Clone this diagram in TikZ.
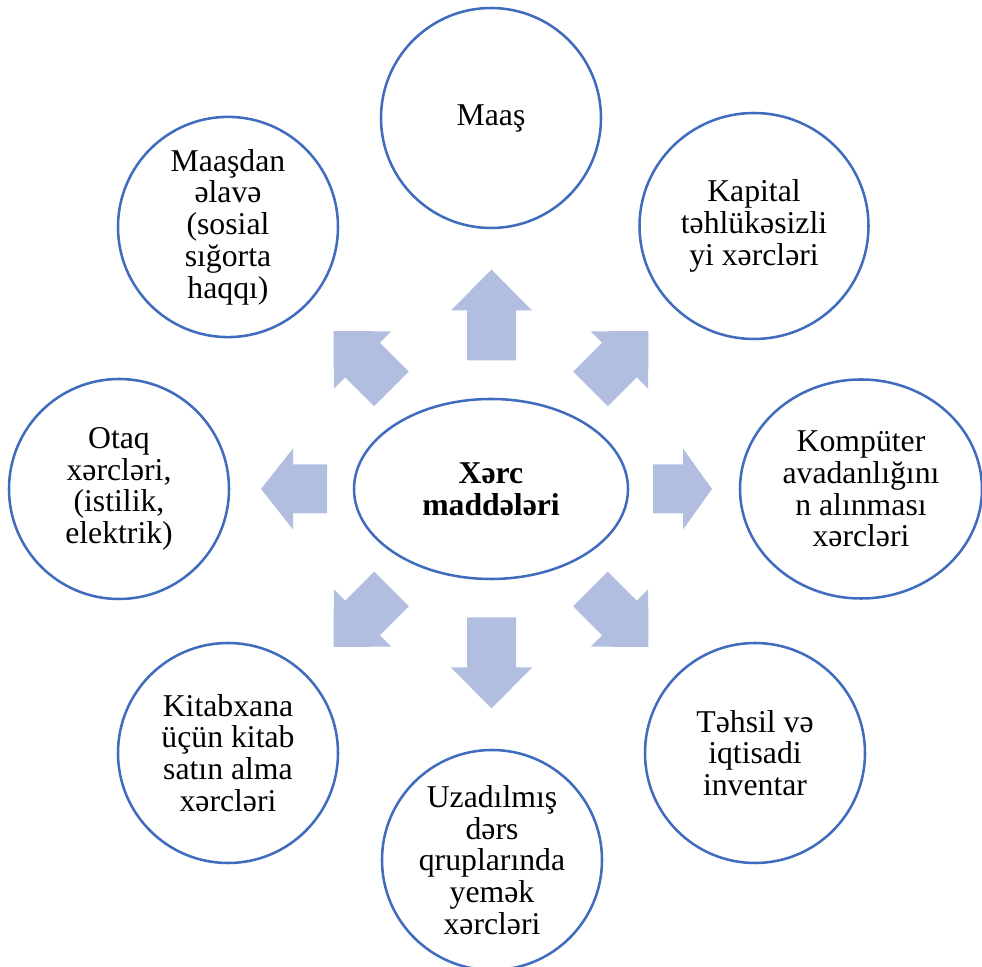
\documentclass[tikz,border=0pt]{standalone}
\usepackage{fontspec}
\setmainfont{Liberation Serif}
\usetikzlibrary{shapes.geometric}

\definecolor{ringblue}{RGB}{64,108,190}
\definecolor{arrowfill}{RGB}{178,190,224}

% block arrow: base x, base y, angle, length, head length
\newcommand{\BlockArrow}[5]{
    \fill[arrowfill, shift={(#1,#2)}, rotate=#3]
    (0,-24.5) -- (#4-#5,-24.5) -- (#4-#5,-40.5) -- (#4,0)
    -- (#4-#5,40.5) -- (#4-#5,24.5) -- (0,24.5) -- cycle;
}

\begin{document}
\begin{tikzpicture}[
        x=0.75pt, y=0.75pt,
        ring/.style={ellipse, draw=ringblue, line width=1.9pt, align=center,
                     inner sep=0pt, font=\fontsize{23.8}{23.8}\selectfont},
        item/.style={ring, minimum width=165pt, minimum height=165pt},
        hub/.style={ring, minimum width=205.5pt, minimum height=135pt,
                    font=\fontsize{23.8}{23.8}\selectfont\bfseries}
    ]
  \useasboundingbox (0,0) rectangle (982,967);

  %%% Centre
  \node[hub] (xerc) at (491,478) {Xərc\\maddələri};

  %%% Circles round it
  \node[item] (maas) at (491,849) {Maaş};
  \node[item, minimum width=171.75pt, minimum height=169.5pt] (kapital) at (754,741)
      {Kapital\\təhlükəsizli\\yi xərcləri};
  \node[item, minimum width=181.5pt, minimum height=164.25pt] (komputer) at (861,478)
      {Kompüter\\avadanlığını\\n alınması\\xərcləri};
  \node[item] (tehsil) at (755,214) {Təhsil və\\iqtisadi\\inventar};
  \node[item] (uzadilmis) at (492,107)
      {Uzadılmış\\dərs\\qruplarında\\yemək\\xərcləri};
  \node[item] (kitab) at (228,214) {Kitabxana\\üçün kitab\\satın alma\\xərcləri};
  \node[item] (otaq) at (119,478) {Otaq\\xərcləri,\\(istilik,\\elektrik)};
  \node[item] (maasdan) at (228,740)
      {Maaşdan\\əlavə\\(sosial\\sığorta\\haqqı)};

  %%% Arrows pointing out from the centre
  \begin{scope}[shift={(xerc.center)}]
    \BlockArrow{0.5}{128.5}{90}{91}{41}
    \BlockArrow{0.5}{-128.5}{-90}{91}{41}
    \BlockArrow{-164}{0}{180}{66}{32}
    \BlockArrow{162}{0}{0}{59}{29}
    \foreach \sx/\sy/\ang in {-1/1/135, 1/1/45, -1/-1/-135, 1/-1/-45}
      {\BlockArrow{\sx*99.5}{\sy*100}{\ang}{82}{41}}
  \end{scope}
\end{tikzpicture}
\end{document}
